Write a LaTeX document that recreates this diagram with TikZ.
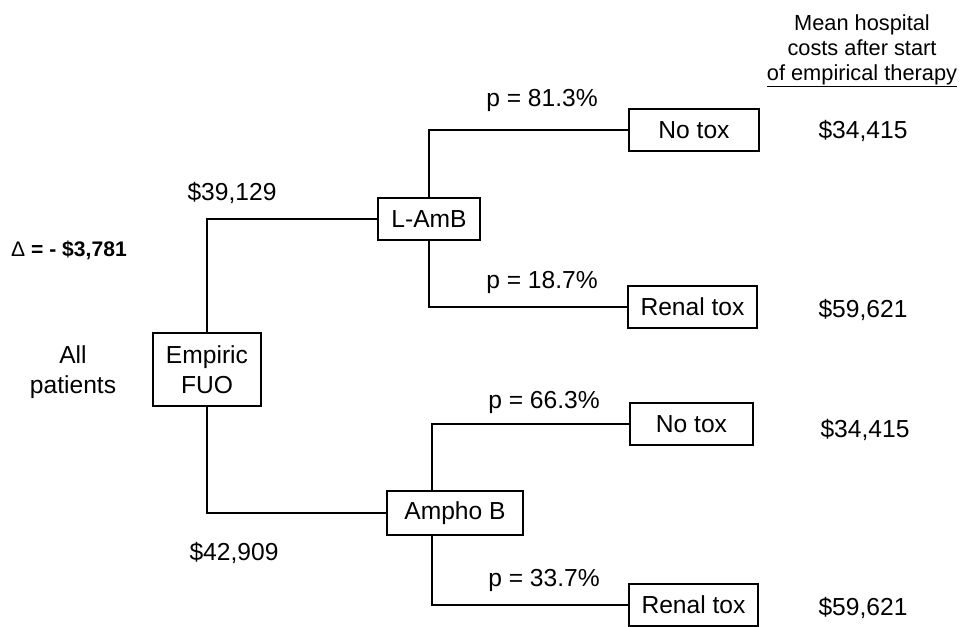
\documentclass[tikz,border=0pt]{standalone}
\usepackage{fontspec}
\setmainfont{Liberation Sans}
\begin{document}
\begin{tikzpicture}
    [x=0.025cm,y=-0.025cm,line width=0.9pt,
     every node/.style={font=\fontsize{17.5}{21}\selectfont},
     box/.style={draw,inner sep=0pt,minimum height=1.05cm}]
    \useasboundingbox (0, 0) rectangle (960, 626);
    \node (header) at (862, 51) [align=center,font=\fontsize{15.5}{17.8}\selectfont]
        {Mean hospital\\costs after start\\\underline{of empirical therapy}};
    \node (delta) at (69, 250) [font=\fontsize{15}{18}\selectfont\bfseries] {{\mdseries Δ} = - \$3,781};
    \node (allpat) at (73, 372) [align=center] {All\\patients};
    \node (empiric) at (207, 369.5) [box,align=center,minimum width=2.7cm,minimum height=1.825cm] {Empiric\\FUO};
    \node (lamb) at (429, 219) [box,minimum width=2.55cm] {L-AmB};
    \node (ampho) at (455, 513) [box,minimum width=3.4cm,minimum height=1.1cm] {Ampho B};
    \node (notoxa) at (694, 130) [box,minimum width=3.25cm] {No tox};
    \node (renala) at (692.5, 307) [box,minimum width=3.225cm] {Renal tox};
    \node (notoxb) at (691.5, 424) [box,minimum width=3.075cm] {No tox};
    \node (renalb) at (693.5, 605) [box,minimum width=3.225cm] {Renal tox};
    \node (costa) at (232, 193) {\$39,129};
    \node (costb) at (234, 553) {\$42,909};
    \node (pa) at (542, 100) {p = 81.3\%};
    \node (pb) at (542, 282) {p = 18.7\%};
    \node (pc) at (544, 402) {p = 66.3\%};
    \node (pd) at (544, 580) {p = 33.7\%};
    \node (outa) at (863, 131) {\$34,415};
    \node (outb) at (863, 310) {\$59,621};
    \node (outc) at (865, 430) {\$34,415};
    \node (outd) at (863, 608) {\$59,621};
    \draw (empiric.north) |- (lamb.west);
    \draw (empiric.south) |- (ampho.west);
    \draw (lamb.north) |- (notoxa.west);
    \draw (lamb.south) |- (renala.west);
    \draw ([xshift=-0.575cm]ampho.north) |- (notoxb.west);
    \draw ([xshift=-0.575cm]ampho.south) |- (renalb.west);
\end{tikzpicture}
\end{document}
